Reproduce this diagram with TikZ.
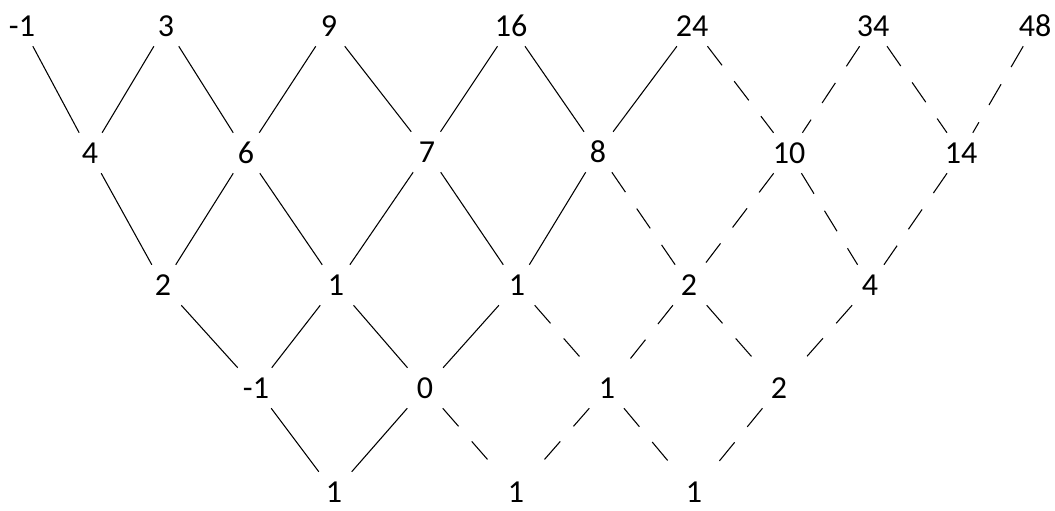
\documentclass[tikz,border=0pt]{standalone}
\usepackage{fontspec}
\setmainfont{Carlito}
\begin{document}
\begin{tikzpicture}[x=0.75pt,y=-0.75pt,
  num/.style={inner sep=0pt,minimum height=30pt,minimum width=45pt,
    font=\fontsize{24}{28}\selectfont},
  solidln/.style={draw=black,line width=0.8pt},
  dashln/.style={draw=black,line width=0.8pt,dash pattern=on 18pt off 15pt}]
\useasboundingbox (0,0) rectangle (1055,510);
% row 0
\node[num] (a0) at (22,26) {-1};
\node[num] (a1) at (166,26) {3};
\node[num] (a2) at (329,26) {9};
\node[num] (a3) at (511,26) {16};
\node[num] (a4) at (692,26) {24};
\node[num] (a5) at (873,26) {34};
\node[num] (a6) at (1035,26) {48};
% row 1
\node[num] (b0) at (90,153) {4};
\node[num] (b1) at (246,153) {6};
\node[num] (b2) at (427,152) {7};
\node[num] (b3) at (598,152) {8};
\node[num] (b4) at (789,153) {10};
\node[num] (b5) at (961,153) {14};
% row 2
\node[num] (c0) at (163,285) {2};
\node[num] (c1) at (336,285) {1};
\node[num] (c2) at (517,285) {1};
\node[num] (c3) at (689,285) {2};
\node[num] (c4) at (870,285) {4};
% row 3
\node[num] (d0) at (256,388) {-1};
\node[num] (d1) at (425,388) {0};
\node[num] (d2) at (607,388) {1};
\node[num] (d3) at (779,388) {2};
% row 4
\node[num] (e0) at (334,492) {1};
\node[num] (e1) at (516,492) {1};
\node[num] (e2) at (694,492) {1};
% row 0 - row 1
\draw[solidln] (a0) -- (b0);
\draw[solidln] (a1) -- (b0);
\draw[solidln] (a1) -- (b1);
\draw[solidln] (a2) -- (b1);
\draw[solidln] (a2) -- (b2);
\draw[solidln] (a3) -- (b2);
\draw[solidln] (a3) -- (b3);
\draw[solidln] (a4) -- (b3);
\draw[dashln] (a4) -- (b4);
\draw[dashln] (a5) -- (b4);
\draw[dashln] (a5) -- (b5);
\draw[dashln] (a6) -- (b5);
% row 1 - row 2
\draw[solidln] (b0) -- (c0);
\draw[solidln] (b1) -- (c0);
\draw[solidln] (b1) -- (c1);
\draw[solidln] (b2) -- (c1);
\draw[solidln] (b2) -- (c2);
\draw[solidln] (b3) -- (c2);
\draw[dashln] (b3) -- (c3);
\draw[dashln] (b4) -- (c3);
\draw[dashln] (b4) -- (c4);
\draw[dashln] (b5) -- (c4);
% row 2 - row 3
\draw[solidln] (c0) -- (d0);
\draw[solidln] (c1) -- (d0);
\draw[solidln] (c1) -- (d1);
\draw[solidln] (c2) -- (d1);
\draw[dashln] (c2) -- (d2);
\draw[dashln] (c3) -- (d2);
\draw[dashln] (c3) -- (d3);
\draw[dashln] (c4) -- (d3);
% row 3 - row 4
\draw[solidln] (d0) -- (e0);
\draw[solidln] (d1) -- (e0);
\draw[dashln] (d1) -- (e1);
\draw[dashln] (d2) -- (e1);
\draw[dashln] (d2) -- (e2);
\draw[dashln] (d3) -- (e2);
\end{tikzpicture}
\end{document}
